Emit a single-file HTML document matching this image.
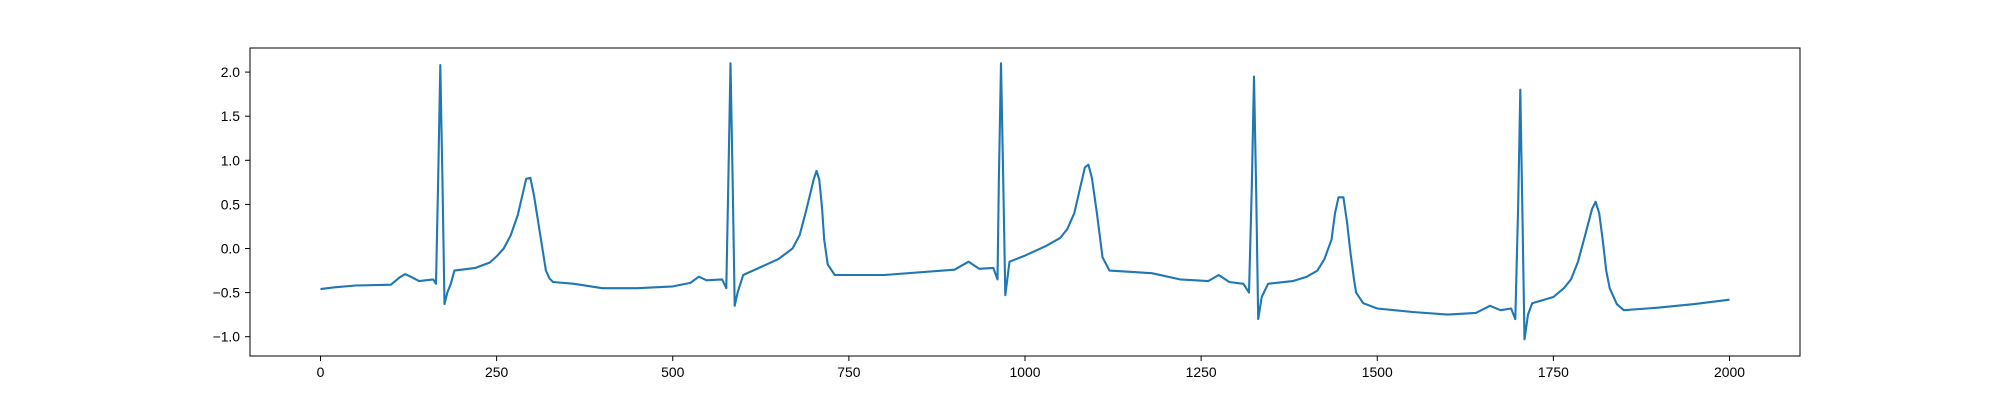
<!DOCTYPE html>
<html><head><meta charset="utf-8"><style>
html,body{margin:0;padding:0;background:#fff;}
svg text{font-family:"Liberation Sans","DejaVu Sans",sans-serif;font-size:13.9px;fill:#000;}
</style></head><body>
<svg id="chart" width="2000" height="400" xmlns="http://www.w3.org/2000/svg">
<rect x="0" y="0" width="2000" height="400" fill="#fff"/>
<g id="ticks"></g>
<polyline id="line" fill="none" stroke="#1f77b4" stroke-width="2.1" stroke-linejoin="round" points=""/>
<rect x="250" y="48" width="1550" height="308" fill="none" stroke="#000" stroke-width="1"/>
</svg>
<script>
const sampleIdx = [
0,20,50,100,112,120,128,140,160,164,167,170,173,176,180,185,190,
220,240,250,260,270,280,287,292,298,303,310,315,320,325,330,360,400,450,500,
525,537,548,570,576,579,582,585,588,592,600,
650,670,680,690,700,704,708,712,715,720,730,800,900,
920,935,955,961,963,966,969,972,978,
1000,1030,1050,1060,1070,1080,1085,1090,1095,1102,1110,1120,1180,1220,1260,
1275,1290,1310,1318,1322,1325,1328,1331,1336,1345,
1380,1400,1415,1425,1435,1440,1445,1452,1457,1462,1467,1470,1480,1500,1550,1600,1640,
1660,1675,1690,1696,1700,1703,1706,1709,1714,1720,
1750,1765,1775,1785,1795,1805,1810,1815,1820,1825,1830,1840,1850,1900,1950,2000];
const ecgValues = [
-0.46,-0.44,-0.42,-0.41,-0.33,-0.29,-0.32,-0.37,-0.35,-0.40,0.8,2.08,0.8,-0.63,-0.50,-0.40,-0.25,
-0.22,-0.16,-0.09,0.0,0.15,0.38,0.62,0.79,0.80,0.6,0.25,0.0,-0.25,-0.34,-0.38,-0.40,-0.45,-0.45,-0.43,
-0.39,-0.32,-0.36,-0.35,-0.45,0.8,2.10,0.8,-0.65,-0.50,-0.30,
-0.12,0.0,0.15,0.45,0.78,0.88,0.78,0.45,0.1,-0.18,-0.30,-0.30,-0.24,
-0.15,-0.23,-0.22,-0.35,0.8,2.10,0.8,-0.53,-0.15,
-0.08,0.03,0.12,0.22,0.40,0.75,0.92,0.95,0.80,0.40,-0.10,-0.25,-0.28,-0.35,-0.37,
-0.30,-0.38,-0.40,-0.50,0.7,1.95,0.7,-0.80,-0.55,-0.40,
-0.37,-0.32,-0.25,-0.12,0.10,0.40,0.58,0.58,0.30,-0.05,-0.35,-0.50,-0.62,-0.68,-0.72,-0.75,-0.73,
-0.65,-0.70,-0.68,-0.80,0.5,1.80,0.4,-1.03,-0.75,-0.62,
-0.55,-0.45,-0.35,-0.15,0.15,0.45,0.53,0.40,0.10,-0.25,-0.45,-0.63,-0.70,-0.67,-0.63,-0.58];
const xTicks = [0,250,500,750,1000,1250,1500,1750,2000];
const yTicks = [-1.0,-0.5,0.0,0.5,1.0,1.5,2.0];
const yTickLabels = ["\u22121.0","\u22120.5","0.0","0.5","1.0","1.5","2.0"];

function xs(v){return 320.5 + v*(1729.5-320.5)/2000;}
function ys(v){return 248.5 - v*88.2;}

const line = document.getElementById('line');
line.setAttribute('points', sampleIdx.map((s,i)=>xs(s).toFixed(1)+','+ys(ecgValues[i]).toFixed(1)).join(' '));

const g = document.getElementById('ticks');
const NS = 'http://www.w3.org/2000/svg';
xTicks.forEach(t=>{
  const l = document.createElementNS(NS,'line');
  
  
  l.setAttribute('x1',xs(t));l.setAttribute('x2',xs(t));l.setAttribute('y1',356);l.setAttribute('y2',361);
  l.setAttribute('stroke','#000');
  g.appendChild(l);
  const tx = document.createElementNS(NS,'text');
  
  
  tx.setAttribute('x',xs(t));tx.setAttribute('y',377);tx.setAttribute('text-anchor','middle');
  tx.textContent = t;
  g.appendChild(tx);
});
yTicks.forEach((t,i)=>{
  const l = document.createElementNS(NS,'line');
  
  
  l.setAttribute('x1',245);l.setAttribute('x2',250);l.setAttribute('y1',ys(t));l.setAttribute('y2',ys(t));
  l.setAttribute('stroke','#000');
  g.appendChild(l);
  const tx = document.createElementNS(NS,'text');
  
  
  tx.setAttribute('x',240);tx.setAttribute('y',ys(t)+5);tx.setAttribute('text-anchor','end');
  tx.textContent = yTickLabels[i];
  g.appendChild(tx);
});
</script>
</body></html>
